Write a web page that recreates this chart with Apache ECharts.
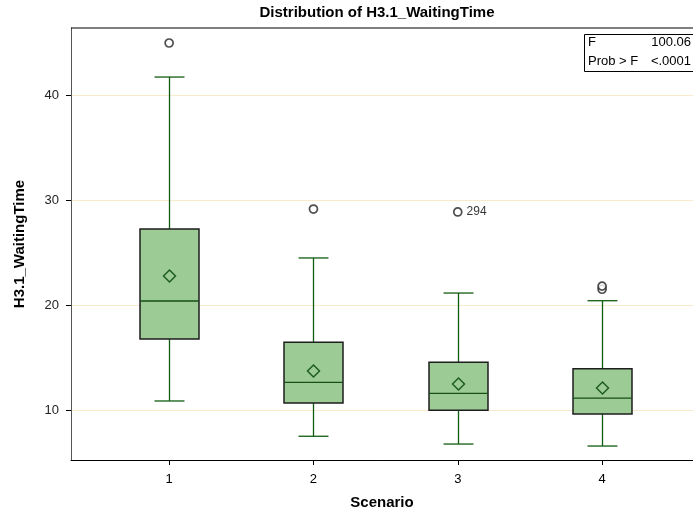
<!DOCTYPE html>
<html><head><meta charset="utf-8">
<script src="https://cdn.jsdelivr.net/npm/echarts@6/dist/echarts.min.js"></script>
<style>html,body{margin:0;padding:0;background:#fff}#c{width:693px;height:515px}</style>
</head><body><div id="c"></div>
<script>
var scenarios = [1, 2, 3, 4];
var whiskerLow = [10.86, 7.50, 6.76, 6.57];
var q1Values = [16.76, 10.67, 9.97, 9.62];
var medians = [20.38, 12.64, 11.59, 11.14];
var q3Values = [27.24, 16.45, 14.54, 13.93];
var whiskerHigh = [41.71, 24.48, 21.14, 20.41];
var means = [22.76, 13.71, 12.48, 12.10];
var outlierX = [1, 2, 3, 4, 4];
var outlierY = [44.95, 29.14, 28.86, 21.5, 21.8];
var outlierLabels = ['', '', '294', '', ''];
var yTicks = [10, 20, 30, 40];
var statLabels = ['F', 'Prob > F'];
var statValues = ['100.06', '<.0001'];

var FONT = '"Liberation Sans", Arial, sans-serif';
var boxData = scenarios.map(function (s, i) {
  return [s, whiskerLow[i], q1Values[i], medians[i], q3Values[i], whiskerHigh[i], means[i]];
});
var outlierData = outlierX.map(function (x, i) {
  return { value: [x, outlierY[i]], label: { show: !!outlierLabels[i], formatter: outlierLabels[i] } };
});

var chart = echarts.init(document.getElementById('c'), null, { renderer: 'canvas' });
chart.setOption({
  animation: false,
  backgroundColor: '#ffffff',
  grid: { left: 71, right: 0, top: 28, bottom: 55, containLabel: false },
  xAxis: {
    type: 'value', min: 0.32, max: 4.63,
    name: 'Scenario', nameLocation: 'middle', nameGap: 35,
    nameTextStyle: { fontFamily: FONT, fontSize: 15, fontWeight: 'bold', color: '#000' },
    axisLine: { show: true, lineStyle: { color: '#000', width: 1 } },
    axisTick: { show: true, inside: false, length: 5, customValues: scenarios, lineStyle: { color: '#000' } },
    axisLabel: { customValues: scenarios, margin: 13, fontFamily: FONT, fontSize: 13, color: '#000' },
    splitLine: { show: false }
  },
  yAxis: {
    type: 'value', min: 5.24, max: 46.38,
    name: 'H3.1_WaitingTime', nameLocation: 'middle', nameGap: 44, nameRotate: 90,
    nameTextStyle: { fontFamily: FONT, fontSize: 15, fontWeight: 'bold', color: '#000' },
    axisLine: { show: true, lineStyle: { color: '#555', width: 1 } },
    axisTick: { show: true, inside: false, length: 5, customValues: yTicks, lineStyle: { color: '#000' } },
    axisLabel: { customValues: yTicks, margin: 12, fontFamily: FONT, fontSize: 13, color: '#222' },
    splitLine: { show: true, lineStyle: { color: '#f7ebcb', width: 1 } }
  },
  graphic: [
    { type: 'text', x: 377, y: 5, style: { text: 'Distribution of H3.1_WaitingTime', font: 'bold 15px ' + FONT, fill: '#000', align: 'center' }, z: 11 },
    { type: 'line', shape: { x1: 71, y1: 28, x2: 693, y2: 28 }, style: { stroke: '#000', lineWidth: 1 }, z: 10 },
    { type: 'rect', shape: { x: 584.5, y: 34.5, width: 120, height: 37 }, style: { fill: '#fff', stroke: '#000', lineWidth: 1 }, z: 10 },
    { type: 'text', x: 588, y: 36, style: { text: statLabels[0], font: '13px ' + FONT, fill: '#000' }, z: 11 },
    { type: 'text', x: 691, y: 36, style: { text: statValues[0], font: '13px ' + FONT, fill: '#000', align: 'right' }, z: 11 },
    { type: 'text', x: 588, y: 55, style: { text: statLabels[1], font: '13px ' + FONT, fill: '#000' }, z: 11 },
    { type: 'text', x: 691, y: 55, style: { text: statValues[1], font: '13px ' + FONT, fill: '#000', align: 'right' }, z: 11 }
  ],
  series: [
    {
      type: 'custom',
      data: boxData,
      renderItem: function (params, api) {
        var x = api.value(0);
        var pLow = api.coord([x, api.value(1)]);
        var pQ1 = api.coord([x, api.value(2)]);
        var pMed = api.coord([x, api.value(3)]);
        var pQ3 = api.coord([x, api.value(4)]);
        var pHigh = api.coord([x, api.value(5)]);
        var pMean = api.coord([x, api.value(6)]);
        var cx = Math.round(pMed[0]) + 0.5;
        var hw = 29.5, cw = 15, d = 6;
        var wStyle = { stroke: '#125c12', lineWidth: 1.3 };
        return {
          type: 'group',
          children: [
            { type: 'line', shape: { x1: cx, y1: pQ3[1], x2: cx, y2: pHigh[1] }, style: wStyle },
            { type: 'line', shape: { x1: cx, y1: pQ1[1], x2: cx, y2: pLow[1] }, style: wStyle },
            { type: 'line', shape: { x1: cx - cw, y1: pHigh[1], x2: cx + cw, y2: pHigh[1] }, style: wStyle },
            { type: 'line', shape: { x1: cx - cw, y1: pLow[1], x2: cx + cw, y2: pLow[1] }, style: wStyle },
            { type: 'rect', shape: { x: cx - hw, y: pQ3[1], width: 2 * hw, height: pQ1[1] - pQ3[1] },
              style: { fill: '#9dcb95', stroke: '#1e1e1e', lineWidth: 1.5 } },
            { type: 'line', shape: { x1: cx - hw, y1: pMed[1], x2: cx + hw, y2: pMed[1] }, style: { stroke: '#174f17', lineWidth: 1.3 } },
            { type: 'polygon', shape: { points: [[cx, pMean[1] - d], [cx + d, pMean[1]], [cx, pMean[1] + d], [cx - d, pMean[1]]] },
              style: { fill: 'none', stroke: '#1f5e1f', lineWidth: 1.5 } }
          ]
        };
      }
    },
    {
      type: 'scatter',
      data: outlierData,
      symbol: 'circle', symbolSize: 8,
      itemStyle: { color: '#fff', borderColor: '#222', borderWidth: 1.7 },
      label: { position: 'right', distance: 4, fontFamily: FONT, fontSize: 12, color: '#000' },
      z: 5
    }
  ]
});
</script></body></html>
